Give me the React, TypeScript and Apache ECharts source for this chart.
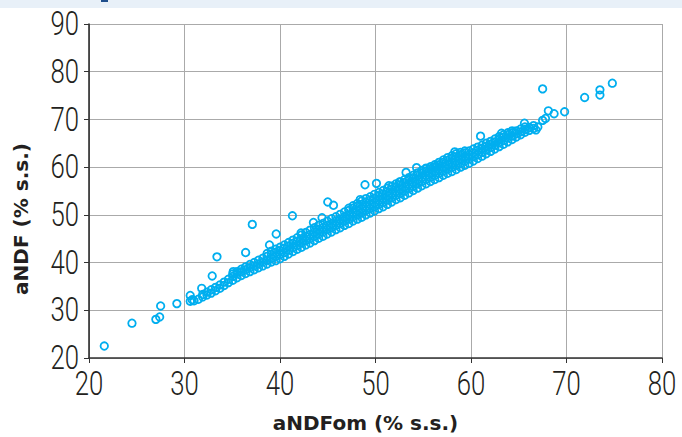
import React, { useEffect, useRef } from "react";
import * as echarts from "echarts";

const xTicks = [20, 30, 40, 50, 60, 70, 80];
const yTicks = [20, 30, 40, 50, 60, 70, 80, 90];
const xName = "aNDFom (% s.s.)";
const yName = "aNDF (% s.s.)";

// scattered points
const outlierPoints: number[][] = [
  [21.6, 22.5], [24.5, 27.3], [27.0, 28.1], [27.4, 28.6], [27.5, 30.9], [29.2, 31.4],
  [30.6, 33.1], [30.6, 31.9], [30.8, 32.2], [31.8, 34.6], [32.9, 37.2], [33.4, 41.2],
  [35.1, 38.1], [36.4, 42.1], [37.1, 48.0], [38.9, 43.7], [39.6, 46.0], [41.3, 49.8],
  [42.2, 46.2], [43.5, 48.4], [44.4, 49.4], [45.0, 52.7], [45.6, 52.0], [48.4, 53.2],
  [48.9, 56.3], [50.1, 56.6], [51.4, 56.1], [52.5, 56.9], [53.2, 58.9], [54.3, 59.9],
  [55.3, 59.8], [56.4, 60.1], [58.3, 63.2], [61.0, 66.5], [63.2, 67.1], [65.6, 69.2],
  [66.8, 67.8], [67.5, 69.8], [67.8, 70.2], [67.5, 76.4], [68.1, 71.8], [68.7, 71.2],
  [69.8, 71.6], [71.9, 74.6], [73.5, 75.1], [73.5, 76.2], [74.8, 77.6],
];

// dense band, read column by column: [x, y values at that x]
const bandColumns: [number, number[]][] = [
  [31.0, [32.0]],
  [31.45, [32.3]],
  [31.9, [32.8, 33.3]],
  [32.35, [33.2, 33.8]],
  [32.8, [33.6, 34.3]],
  [33.25, [34.1, 34.8]],
  [33.7, [34.6, 35.3]],
  [34.15, [35.2, 35.9]],
  [34.6, [35.8, 36.5]],
  [35.05, [36.3, 37.1, 37.6]],
  [35.5, [36.8, 37.6, 38.1]],
  [35.95, [37.3, 38.1, 38.6]],
  [36.4, [37.7, 38.5, 39.1]],
  [36.85, [38.1, 38.9, 39.6]],
  [37.3, [38.5, 39.3, 40.0]],
  [37.75, [38.9, 39.7, 40.5]],
  [38.2, [39.3, 40.1, 40.9]],
  [38.65, [39.7, 40.5, 41.3, 41.9]],
  [39.1, [40.1, 40.9, 41.7, 42.4]],
  [39.55, [40.4, 41.3, 42.1, 42.8]],
  [40.0, [40.8, 41.7, 42.5, 43.2]],
  [40.45, [41.3, 42.1, 43.0, 43.7]],
  [40.9, [41.8, 42.6, 43.5, 44.2]],
  [41.35, [42.3, 43.1, 44.0, 44.7]],
  [41.8, [42.8, 43.6, 44.5, 45.2]],
  [42.25, [43.2, 44.1, 45.0, 45.8]],
  [42.7, [43.7, 44.6, 45.5, 46.3]],
  [43.15, [44.1, 45.0, 45.9, 46.8]],
  [43.6, [44.6, 45.5, 46.4, 47.3]],
  [44.05, [45.1, 46.0, 46.9, 47.8]],
  [44.5, [45.5, 46.4, 47.3, 48.2]],
  [44.95, [46.0, 46.9, 47.8, 48.7]],
  [45.4, [46.4, 47.3, 48.2, 49.2]],
  [45.85, [46.9, 47.8, 48.7, 49.6]],
  [46.3, [47.3, 48.2, 49.1, 50.1]],
  [46.75, [47.8, 48.7, 49.6, 50.6]],
  [47.2, [48.2, 49.1, 50.0, 50.9, 51.4]],
  [47.65, [48.7, 49.6, 50.5, 51.4, 51.9]],
  [48.1, [49.1, 50.0, 50.9, 51.8, 52.4]],
  [48.55, [49.5, 50.4, 51.3, 52.2, 52.9]],
  [49.0, [50.0, 50.9, 51.8, 52.7, 53.4]],
  [49.45, [50.4, 51.3, 52.2, 53.1, 53.8]],
  [49.9, [50.8, 51.7, 52.6, 53.5, 54.3]],
  [50.35, [51.3, 52.2, 53.1, 54.0, 54.7]],
  [50.8, [51.7, 52.6, 53.5, 54.4, 55.1]],
  [51.25, [52.2, 53.1, 54.0, 54.9, 55.6]],
  [51.7, [52.7, 53.6, 54.5, 55.4, 56.0]],
  [52.15, [53.2, 54.1, 55.0, 55.9, 56.5]],
  [52.6, [53.6, 54.5, 55.4, 56.3, 56.9]],
  [53.05, [54.1, 55.0, 55.9, 56.8, 57.4]],
  [53.5, [54.6, 55.5, 56.4, 57.3, 57.8]],
  [53.95, [55.1, 56.0, 56.9, 57.8, 58.3]],
  [54.4, [55.6, 56.5, 57.4, 58.3, 58.8]],
  [54.85, [56.1, 57.0, 57.9, 58.8, 59.3]],
  [55.3, [56.5, 57.4, 58.3, 59.2, 59.7]],
  [55.75, [57.0, 57.9, 58.8, 59.7, 60.1]],
  [56.2, [57.4, 58.3, 59.2, 60.1, 60.5]],
  [56.65, [57.8, 58.7, 59.6, 60.5, 61.0]],
  [57.1, [58.3, 59.2, 60.1, 61.0, 61.5]],
  [57.55, [58.7, 59.6, 60.5, 61.4, 62.0]],
  [58.0, [59.1, 60.0, 60.9, 61.8, 62.4]],
  [58.45, [59.5, 60.4, 61.3, 62.2, 62.8]],
  [58.9, [60.0, 60.8, 61.7, 62.6, 63.1]],
  [59.35, [60.4, 61.3, 62.2, 63.0, 63.4]],
  [59.8, [60.8, 61.7, 62.6, 63.4]],
  [60.25, [61.3, 62.2, 63.0, 63.8]],
  [60.7, [61.8, 62.6, 63.5, 64.2]],
  [61.15, [62.3, 63.1, 63.9, 64.6]],
  [61.6, [62.8, 63.6, 64.4, 65.0]],
  [62.05, [63.3, 64.1, 64.8, 65.4]],
  [62.5, [63.8, 64.6, 65.3, 65.9]],
  [62.95, [64.3, 65.1, 65.8, 66.4]],
  [63.4, [64.8, 65.6, 66.3, 66.8]],
  [63.85, [65.3, 66.1, 66.8, 67.2]],
  [64.3, [65.8, 66.5, 67.2, 67.6]],
  [64.75, [66.3, 67.0, 67.6]],
  [65.2, [66.8, 67.4, 68.0]],
  [65.65, [67.3, 67.9, 68.4]],
  [66.1, [67.7, 68.3]],
  [66.55, [68.1, 68.7]],
  [67.0, [68.4]],
];

const bandPoints: number[][] = bandColumns.flatMap(([x, ys]) => ys.map((y) => [x, y]));

export default function App() {
  const ref = useRef<HTMLDivElement>(null);
  useEffect(() => {
    document.body.style.margin = "0";
    if (!ref.current) return;
    const chart = echarts.init(ref.current, null, { renderer: "svg" });
    const nameStyle = {
      color: "#231f20",
      fontSize: 20,
      fontWeight: "bold" as const,
      fontFamily: "DejaVu Sans",
    };
    chart.setOption({
      animation: false,
      backgroundColor: "#ffffff",
      grid: { left: 89, right: 20, top: 24, bottom: 79, containLabel: false, outerBoundsMode: "none" },
      xAxis: {
        type: "value",
        min: xTicks[0],
        max: xTicks[xTicks.length - 1],
        interval: 10,
        name: xName,
        nameLocation: "middle",
        nameGap: 55,
        nameTextStyle: { ...nameStyle, padding: [0, 20, 0, 0] },
        axisLine: { show: true, lineStyle: { color: "#333333", width: 1.5 } },
        axisTick: { show: true, length: 5, lineStyle: { color: "#333333" } },
        axisLabel: { show: false },
        splitLine: { show: true, lineStyle: { color: "#aaaaaa", width: 1 } },
      },
      yAxis: {
        type: "value",
        min: yTicks[0],
        max: yTicks[yTicks.length - 1],
        interval: 10,
        name: yName,
        nameLocation: "middle",
        nameGap: 58,
        nameTextStyle: { ...nameStyle, padding: [0, 56, 0, 0] },
        axisLine: { show: true, lineStyle: { color: "#222222", width: 1.5 } },
        axisTick: { show: true, length: 5, lineStyle: { color: "#333333" } },
        axisLabel: { show: false },
        splitLine: { show: true, lineStyle: { color: "#aaaaaa", width: 1 } },
      },
      series: [
        {
          type: "scatter",
          data: [...bandPoints, ...outlierPoints],
          symbol: "circle",
          symbolSize: 7.5,
          itemStyle: { color: "rgba(0,0,0,0)", borderColor: "#00aeef", borderWidth: 1.8, opacity: 1 },
          emphasis: { disabled: true },
        },
      ],
    });

    // tick labels drawn as narrow text, placed through the chart's own scales
    const labelFont = { fontSize: 33, fontFamily: "Roboto", fontWeight: 300, fill: "#231f20" };
    const xLabels = xTicks.map((v) => {
      const [px, py] = chart.convertToPixel({ gridIndex: 0 }, [v, yTicks[0]]) as number[];
      return {
        type: "text",
        x: px,
        y: py + 26,
        scaleX: 0.78,
        silent: true,
        style: { text: String(v), align: "center", verticalAlign: "middle", ...labelFont },
      };
    });
    const yLabels = yTicks.map((v) => {
      const [px, py] = chart.convertToPixel({ gridIndex: 0 }, [xTicks[0], v]) as number[];
      return {
        type: "text",
        x: px - 10,
        y: py,
        scaleX: 0.78,
        silent: true,
        style: { text: String(v), align: "right", verticalAlign: "middle", ...labelFont },
      };
    });
    chart.setOption({
      graphic: [
        { type: "rect", left: 0, top: 0, shape: { width: 682, height: 8 }, style: { fill: "#e8f0f8" }, silent: true },
        { type: "rect", left: 101, top: 0, shape: { width: 7, height: 2 }, style: { fill: "#1f4e8c" }, silent: true },
        ...xLabels,
        ...yLabels,
      ],
    });
    return () => chart.dispose();
  }, []);
  return <div ref={ref} style={{ width: 682, height: 437 }} />;
}
